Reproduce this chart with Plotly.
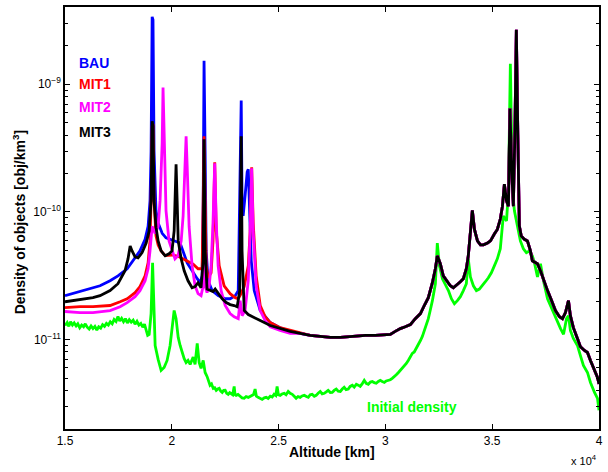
import plotly.graph_objects as go

# Density of objects vs altitude (densities in units of 1e-11 obj/km^3)
SCALE = 1e-11

# Segment above ~26,000 km where all four scenarios coincide
tail_alt = [26010, 26250, 26480, 26950, 27420, 27890, 28360, 28680, 29060, 29530,
            30000, 30230, 30460, 30700, 30930, 31170, 31400, 31640, 31820, 32010,
            32200, 32340, 32430, 32570, 32710, 32900, 33040, 33180, 33370, 33510,
            33650, 33790, 33880, 33980, 34070, 34170, 34310, 34450, 34590, 34780,
            34920, 35100, 35240, 35380, 35480, 35570, 35670, 35760, 35830, 35920,
            35990, 36060, 36130, 36200, 36270, 36360, 36510, 36650, 36790, 36880,
            37030, 37120, 37260, 37450, 37590, 37780, 37960, 38150, 38290, 38430,
            38570, 38660, 38800, 38990, 39130, 39320, 39460, 39600, 39790, 39930, 40000]
tail_dens = [1.12, 1.10, 1.08, 1.06, 1.04, 1.04, 1.06, 1.06, 1.08, 1.08,
             1.10, 1.10, 1.16, 1.22, 1.26, 1.31, 1.46, 1.60, 1.85, 2.13,
             2.79, 3.59, 4.53, 3.93, 3.16, 2.84, 2.64, 2.55, 2.69, 2.84,
             3.00, 3.59, 4.53, 7.10, 10.3, 7.3, 5.93, 5.52, 5.52, 5.71,
             5.93, 6.72, 7.3, 8.8, 11.1, 16.5, 12.2, 11.1, 64.6, 20,
             11.1, 40, 267, 40, 7.8, 6.49, 6.1, 5.93, 4.95, 4.14,
             3.99, 3.93, 3.46, 2.79, 2.42, 2.02, 1.69, 1.51, 1.46, 1.63,
             2.02, 1.54, 1.24, 1.02, 0.88, 0.822, 0.793, 0.687, 0.574, 0.506, 0.45]

bau_alt = [15000, 15700, 16310, 16640, 17110, 17480, 17910, 18230, 18510, 18750,
           18890, 18980, 19030, 19080, 19120, 19170, 19260, 19360, 19550, 19730,
           19920, 20150, 20390, 20720, 21000, 21190, 21330, 21420, 21470, 21510,
           21560, 21610, 21700, 21890, 22170, 22500, 22730, 22970, 23110, 23150,
           23200, 23250, 23290, 23340, 23430, 23480, 23530, 23580, 23620, 23720,
           23860, 24140, 24610, 25070, 25540]
bau_dens = [2.21, 2.37, 2.55, 2.64, 2.89, 3.16, 3.59, 4.29, 4.95, 6.1,
            7.7, 12.2, 29.7, 337, 320, 29.7, 10.2, 8.2, 6.8, 6.26,
            6.1, 5.93, 5.71, 3.99, 3.34, 3.0, 2.79, 3.16, 12.2, 153,
            29.7, 4.95, 2.89, 2.42, 2.21, 2.09, 2.09, 2.21, 2.42, 7.1,
            12.2, 74.6, 12.2, 9.3, 13.3, 17.5, 20.6, 21.6, 12.2, 4.14,
            2.42, 1.69, 1.36, 1.24, 1.16]

mit1_alt = [15000, 15700, 16310, 17110, 17580, 17910, 18280, 18510, 18750, 18890,
            18980, 19030, 19080, 19120, 19170, 19260, 19360, 19500, 19690, 20010,
            20300, 20620, 21000, 21230, 21420, 21470, 21510, 21560, 21610, 21700,
            21840, 21930, 22010, 22080, 22220, 22450, 22730, 22970, 23110, 23250,
            23390, 23580, 23670, 23740, 23810, 23950, 24140, 24370, 24610, 25070, 25540]
mit1_dens = [1.78, 1.81, 1.81, 1.85, 1.98, 2.09, 2.33, 2.6, 3.16, 3.99,
             5.93, 12.2, 47, 49, 12.2, 6.49, 5.5, 4.95, 4.55, 4.6,
             4.5, 4.2, 3.9, 3.59, 3.59, 12.2, 39.1, 12.2, 3.78, 3.05,
             3.34, 5.93, 24.5, 7.1, 3.78, 2.64, 2.29, 2.13, 2.09, 2.3,
             2.6, 3.78, 7.1, 22.4, 8.3, 3.16, 1.85, 1.51, 1.36, 1.24, 1.18]

mit2_alt = [15000, 15700, 16310, 17110, 17580, 17910, 18280, 18510, 18750, 18890,
            18980, 19080, 19220, 19360, 19450, 19550, 19590, 19640, 19730, 19870,
            20010, 20150, 20290, 20440, 20530, 20620, 20670, 20720, 20810, 20950,
            21090, 21230, 21370, 21470, 21510, 21560, 21650, 21750, 21840, 21930,
            22010, 22080, 22170, 22310, 22500, 22730, 22920, 23110, 23200, 23290,
            23430, 23580, 23670, 23740, 23810, 23950, 24140, 24370, 24610, 25070, 25540]
mit2_dens = [1.66, 1.63, 1.63, 1.69, 1.81, 1.95, 2.17, 2.42, 2.89, 3.59,
             4.95, 7.7, 6.8, 7.7, 12.2, 35, 94.2, 35, 10.2, 5.93,
             4.95, 4.29, 4.53, 5.93, 9.3, 22.8, 39.1, 22.8, 7.7, 3.78,
             2.64, 2.29, 2.21, 2.64, 4.14, 2.64, 2.33, 2.64, 3.78, 8.3,
             24, 8.3, 3.78, 2.42, 1.85, 1.60, 1.51, 1.46, 2.02, 1.54,
             1.69, 2.89, 7.1, 22.0, 7.1, 2.64, 1.69, 1.41, 1.26, 1.18, 1.12]

mit3_alt = [15000, 15700, 16310, 16640, 17110, 17480, 17810, 17950, 18050, 18140,
            18280, 18420, 18610, 18800, 18940, 19030, 19080, 19120, 19170, 19260,
            19360, 19500, 19690, 19870, 20010, 20110, 20160, 20200, 20250, 20300,
            20440, 20580, 20760, 20950, 21090, 21230, 21370, 21470, 21510, 21560,
            21650, 21790, 21930, 22030, 22170, 22360, 22550, 22730, 22920, 23060,
            23180, 23220, 23250, 23290, 23390, 23580, 23810, 24140, 24610, 25070, 25540]
mit3_dens = [1.98, 2.05, 2.13, 2.21, 2.42, 2.74, 3.46, 4.29, 5.42, 4.95,
             4.45, 4.37, 4.8, 5.71, 7.1, 12.2, 51.2, 47, 12.2, 7.6,
             5.93, 4.95, 4.53, 4.70, 4.95, 7.1, 12.2, 23.6, 12.2, 5.93,
             4.29, 3.46, 2.89, 2.55, 2.6, 2.79, 2.55, 4.14, 37.0, 4.95,
             2.49, 2.42, 2.38, 2.49, 2.29, 2.09, 1.95, 1.88, 1.85, 1.81,
             2.42, 35, 39.1, 4.95, 1.69, 1.57, 1.51, 1.41, 1.29, 1.22, 1.16]

# Initial density, in four altitude bands
init_alt_a = [15000, 15100, 15180, 15260, 15350, 15430, 15520, 15600, 15690, 15780,
              15870, 15950, 16040, 16130, 16220, 16310, 16400, 16490, 16580, 16670,
              16760, 16850, 16940, 17030, 17120, 17210, 17300, 17390, 17480, 17560,
              17650, 17740, 17830, 17920, 18010, 18100, 18190, 18280, 18370, 18460,
              18550, 18640, 18720, 18800, 18870, 18940, 19030, 19100, 19170, 19220]
init_dens_a = [1.29, 1.36, 1.27, 1.38, 1.30, 1.35, 1.28, 1.33, 1.24, 1.30,
               1.26, 1.33, 1.25, 1.21, 1.28, 1.22, 1.27, 1.19, 1.26, 1.23,
               1.31, 1.27, 1.34, 1.30, 1.38, 1.33, 1.44, 1.39, 1.52, 1.40,
               1.47, 1.38, 1.46, 1.35, 1.43, 1.37, 1.42, 1.32, 1.39, 1.30,
               1.34, 1.25, 1.32, 1.17, 1.08, 1.10, 1.6, 3.99, 1.5, 0.9]

init_alt_b = [19360, 19500, 19640, 19780, 19920, 20010, 20110, 20200, 20300, 20390,
              20480, 20580, 20670, 20760, 20860, 21000, 21090, 21190, 21280, 21370,
              21470, 21560, 21650]
init_dens_b = [0.70, 0.574, 0.605, 0.687, 0.90, 1.29, 1.69, 1.46, 1.04, 0.90,
               0.793, 0.71, 0.662, 0.687, 0.64, 0.73, 0.64, 0.933, 0.662, 0.595,
               0.687, 0.553, 0.515]

init_alt_c = [21720, 21790, 21860, 21940, 22010, 22080, 22150, 22220, 22290, 22360,
              22430, 22500, 22570, 22640, 22710, 22780, 22850, 22920, 22960, 23010,
              23100, 23200, 23290, 23390, 23480, 23580, 23670, 23760, 23830, 23900,
              23960, 24040, 24140, 24230, 24330, 24420, 24510, 24610, 24700, 24790,
              24870, 24930, 24990, 25070, 25160, 25260, 25350, 25450, 25540, 25640,
              25730, 25820, 25910, 26010, 26100, 26200, 26300, 26390, 26480, 26570,
              26670, 26760, 26850, 26950, 27040, 27140, 27230, 27320, 27420, 27510,
              27600, 27700, 27790, 27890, 27980, 28070, 28160, 28260, 28350, 28450,
              28540, 28640, 28730, 28820, 28910, 29010, 29100, 29200, 29300, 29390,
              29480, 29570, 29670, 29760, 29850, 29950, 30040, 30140, 30230, 30320,
              30410, 30510, 30600, 30700, 30800, 30890, 30980, 31070, 31160, 31260,
              31350, 31450, 31540, 31640, 31730, 31820, 31910, 32010, 32100, 32200]
init_dens_c = [0.47, 0.439, 0.45, 0.415, 0.42, 0.401, 0.41, 0.415, 0.395, 0.386,
               0.40, 0.401, 0.38, 0.373, 0.385, 0.380, 0.37, 0.43, 0.37, 0.366,
               0.372, 0.36, 0.35, 0.347, 0.358, 0.353, 0.36, 0.366, 0.372, 0.41,
               0.36, 0.353, 0.345, 0.34, 0.35, 0.353, 0.346, 0.36, 0.355, 0.373,
               0.365, 0.43, 0.37, 0.366, 0.375, 0.380, 0.37, 0.393, 0.38, 0.373,
               0.36, 0.347, 0.358, 0.353, 0.362, 0.366, 0.358, 0.353, 0.37, 0.373,
               0.36, 0.366, 0.38, 0.393, 0.376, 0.380, 0.39, 0.401, 0.385, 0.386,
               0.40, 0.41, 0.395, 0.393, 0.41, 0.423, 0.405, 0.41, 0.43, 0.439,
               0.425, 0.447, 0.44, 0.43, 0.45, 0.48, 0.455, 0.447, 0.465, 0.47,
               0.46, 0.455, 0.47, 0.48, 0.47, 0.462, 0.475, 0.48, 0.485, 0.497,
               0.51, 0.53, 0.55, 0.574, 0.60, 0.628, 0.65, 0.687, 0.74, 0.78,
               0.80, 0.853, 0.92, 0.984, 1.06, 1.18, 1.30, 1.46, 1.70, 2.02]

init_alt_d = [32340, 32430, 32530, 32670, 32810, 32950, 33090, 33230, 33370, 33510,
              33650, 33790, 33880, 33980, 34120, 34260, 34400, 34540, 34680, 34820,
              34960, 35100, 35240, 35380, 35520, 35670, 35760, 35850, 35950, 36040,
              36180, 36320, 36460, 36600, 36740, 36880, 36980, 37120, 37260, 37400,
              37590, 37730, 37870, 38010, 38200, 38340, 38480, 38570, 38660, 38800,
              38990, 39130, 39270, 39460, 39600, 39790, 39930, 40000]
init_dens_d = [2.74, 5.71, 3.78, 3.00, 2.69, 2.42, 2.09, 1.91, 2.02, 2.17,
               2.42, 2.74, 4.29, 3.10, 2.64, 2.42, 2.49, 2.64, 2.84, 3.05,
               3.34, 3.78, 4.29, 5.15, 9.3, 8.5, 14.5, 145, 14.5, 10.2,
               7.7, 5.93, 5.15, 4.8, 4.95, 4.53, 3.99, 3.10, 3.93, 2.89,
               2.09, 1.85, 1.63, 1.41, 1.22, 1.10, 1.46, 1.54, 1.18, 1.02,
               0.90, 0.75, 0.628, 0.553, 0.462, 0.386, 0.347, 0.28]

init_alt = init_alt_a + init_alt_b + init_alt_c + init_alt_d
init_dens = init_dens_a + init_dens_b + init_dens_c + init_dens_d

series = [
    ("Initial density", init_alt, init_dens, "#00ff00"),
    ("BAU", bau_alt + tail_alt, bau_dens + tail_dens, "#0000ff"),
    ("MIT1", mit1_alt + tail_alt, mit1_dens + tail_dens, "#ff0000"),
    ("MIT2", mit2_alt + tail_alt, mit2_dens + tail_dens, "#ff00ff"),
    ("MIT3", mit3_alt + tail_alt, mit3_dens + tail_dens, "#000000"),
]
for name, alt, dens, _ in series:
    assert len(alt) == len(dens), name

x_ticks = [15000, 20000, 25000, 30000, 35000, 40000]
x_tick_text = ["1.5", "2", "2.5", "3", "3.5", "4"]
y_ticks = [1e-11, 1e-10, 1e-9]
y_tick_text = ["10<sup>\u221211</sup>", "10<sup>\u221210</sup>", "10<sup>\u22129</sup>"]
y_minor = [m * 10.0 ** e for e in (-12, -11, -10, -9) for m in range(2, 10)]

FONT = "Liberation Sans, Arial, Helvetica, sans-serif"

fig = go.Figure()
for name, alt, dens, color in series:
    fig.add_trace(go.Scatter(
        x=alt, y=[d * SCALE for d in dens], mode="lines", name=name,
        line=dict(color=color, width=2.8), showlegend=False,
    ))

# Labels used as the legend
legend_items = [("BAU", "#0000ff", 0.868), ("MIT1", "#ff0000", 0.818),
                ("MIT2", "#ff00ff", 0.764), ("MIT3", "#000000", 0.703)]
for text, color, ypos in legend_items:
    fig.add_annotation(x=0.022, y=ypos, xref="paper", yref="paper", text=f"<b>{text}</b>",
                       showarrow=False, xanchor="left", yanchor="middle",
                       font=dict(family=FONT, size=14, color=color))
fig.add_annotation(x=0.65, y=0.052, xref="paper", yref="paper", text="<b>Initial density</b>",
                   showarrow=False, xanchor="center", yanchor="middle",
                   font=dict(family=FONT, size=14, color="#00ff00"))

fig.add_annotation(x=0.5, y=-0.054, xref="paper", yref="paper", text="<b>Altitude [km]</b>",
                   showarrow=False, xanchor="center", yanchor="middle",
                   font=dict(family=FONT, size=14, color="black"))
fig.add_annotation(x=-0.086, y=0.49, xref="paper", yref="paper",
                   text="<b>Density of objects [obj/km<sup>3</sup>]</b>", textangle=-90,
                   showarrow=False, xanchor="center", yanchor="middle",
                   font=dict(family=FONT, size=14, color="black"))
fig.add_annotation(x=0.972, y=-0.073, xref="paper", yref="paper", text="x 10<sup>4</sup>",
                   showarrow=False, xanchor="center", yanchor="middle",
                   font=dict(family=FONT, size=11, color="black"))

fig.update_xaxes(range=[15000, 40000], tickvals=x_ticks, ticktext=x_tick_text,
                 ticks="inside", ticklen=5, tickcolor="black", mirror="ticks",
                 showline=True, linecolor="black", linewidth=1.5, showgrid=False,
                 zeroline=False, tickfont=dict(family=FONT, size=12, color="black"))
fig.update_yaxes(type="log", range=[-11.70, -8.395], tickvals=y_ticks, ticktext=y_tick_text,
                 ticks="inside", ticklen=5, tickcolor="black", mirror="ticks",
                 minor=dict(tickvals=y_minor, ticks="inside", ticklen=3, tickcolor="black"),
                 showline=True, linecolor="black", linewidth=1.5, showgrid=False,
                 zeroline=False, tickfont=dict(family=FONT, size=12, color="black"))

fig.update_layout(width=608, height=472, margin=dict(l=65, r=7, t=5, b=43),
                  paper_bgcolor="white", plot_bgcolor="white")

fig.write_html("out.html")
